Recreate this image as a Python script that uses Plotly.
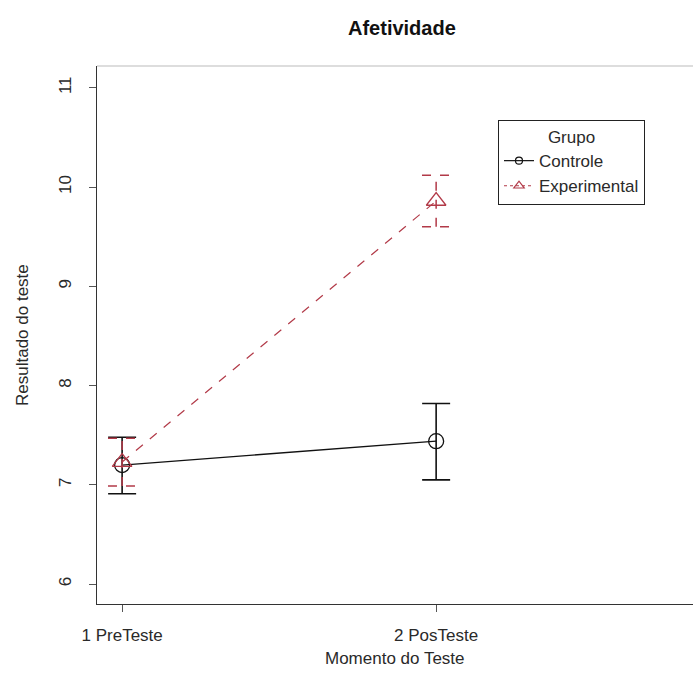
import plotly.graph_objects as go

# ---- data ----
moments = [1, 2]
tick_labels = ["1 PreTeste", "2 PosTeste"]
controle_mean = [7.20, 7.44]
controle_upper = [7.48, 7.82]
controle_lower = [6.91, 7.05]
experimental_mean = [7.23, 9.86]
experimental_upper = [7.47, 10.12]
experimental_lower = [6.99, 9.60]

BLACK = "#111111"
RED = "#b23a48"
TXT = "#2a2a2a"
FONT = "Liberation Sans, Arial, sans-serif"
cap = 0.045

fig = go.Figure()

# Controle
fig.add_trace(go.Scatter(
    x=moments, y=controle_mean, mode="lines+markers", name="Controle", showlegend=False,
    line=dict(color=BLACK, width=1.3),
    marker=dict(symbol="circle-open", size=15, color=BLACK, line=dict(width=1.3)),
    error_y=dict(type="data", symmetric=False,
                 array=[u - m for u, m in zip(controle_upper, controle_mean)],
                 arrayminus=[m - l for m, l in zip(controle_mean, controle_lower)],
                 color=BLACK, thickness=1.6, width=14),
))

# Experimental error bars (dashed) built from data
ex, ey = [], []
for xv, lo, hi in zip(moments, experimental_lower, experimental_upper):
    ex += [xv, xv, None, xv - cap, xv + cap, None, xv - cap, xv + cap, None]
    ey += [lo, hi, None, lo, lo, None, hi, hi, None]
fig.add_trace(go.Scatter(
    x=ex, y=ey, mode="lines", showlegend=False, hoverinfo="skip",
    line=dict(color=RED, width=1.5, dash="dash"),
))

fig.add_trace(go.Scatter(
    x=moments, y=experimental_mean, mode="lines+markers", name="Experimental", showlegend=False,
    line=dict(color=RED, width=1.2, dash="dash"),
    marker=dict(symbol="triangle-up-open", size=17, color=RED, line=dict(width=1.3)),
))

# legend-only entries with small symbols
fig.add_trace(go.Scatter(
    x=[None], y=[None], mode="lines+markers", name="Controle",
    line=dict(color=BLACK, width=1.2),
    marker=dict(symbol="circle-open", size=7, color=BLACK, line=dict(width=1.2)),
))
fig.add_trace(go.Scatter(
    x=[None], y=[None], mode="lines+markers", name="Experimental",
    line=dict(color=RED, width=1.2, dash="dot"),
    marker=dict(symbol="triangle-up-open", size=9, color=RED, line=dict(width=1.2)),
))

fig.update_layout(
    width=695, height=690,
    margin=dict(l=97, r=2, t=66, b=86),
    paper_bgcolor="white", plot_bgcolor="white",
    font=dict(family=FONT, size=17, color=TXT),
    showlegend=True,
    legend=dict(
        x=(498 - 97) / 596, y=(604 - 120) / 538, xanchor="left", yanchor="top",
        bordercolor="#222", borderwidth=1, bgcolor="white",
        title=dict(text="Grupo", side="top center", font=dict(size=17, color=TXT)),
        font=dict(size=17, color=TXT), tracegroupgap=0, itemwidth=30,
    ),
    xaxis=dict(
        range=[0.92, 2.818], tickvals=moments, ticktext=tick_labels,
        showgrid=False, zeroline=False, showline=True, linecolor="#333", linewidth=1.2,
        ticks="outside", ticklen=7, tickcolor="#555", ticklabelstandoff=8,
        tickfont=dict(size=17, color=TXT),
    ),
    yaxis=dict(
        range=[5.80, 11.22], tickvals=[6, 7, 8, 9, 10, 11],
        showgrid=False, zeroline=False, showline=True, linecolor="#333", linewidth=1.2,
        ticks="outside", ticklen=7, tickcolor="#555", tickangle=-90,
        ticklabelstandoff=11, tickfont=dict(size=17, color=TXT),
    ),
    annotations=[
        dict(text="<b>Afetividade</b>", x=(402 - 97) / 596, y=1 + (66 - 28) / 538,
             xref="paper", yref="paper", xanchor="center", yanchor="middle",
             showarrow=False, font=dict(size=20, color="#111")),
        dict(text="Momento do Teste", x=(395 - 97) / 596, y=-(658 - 604) / 538,
             xref="paper", yref="paper", xanchor="center", yanchor="middle",
             showarrow=False, font=dict(size=17, color=TXT)),
        dict(text="Resultado do teste", x=-(97 - 22) / 596, y=0.5, xref="paper", yref="paper",
             textangle=-90, xanchor="center", yanchor="middle", showarrow=False,
             font=dict(size=17, color=TXT)),
    ],
    shapes=[dict(type="line", xref="paper", yref="paper", x0=0, x1=1, y0=1, y1=1,
                 line=dict(color="#dddddd", width=2))],
)

fig.write_html("out.html")
